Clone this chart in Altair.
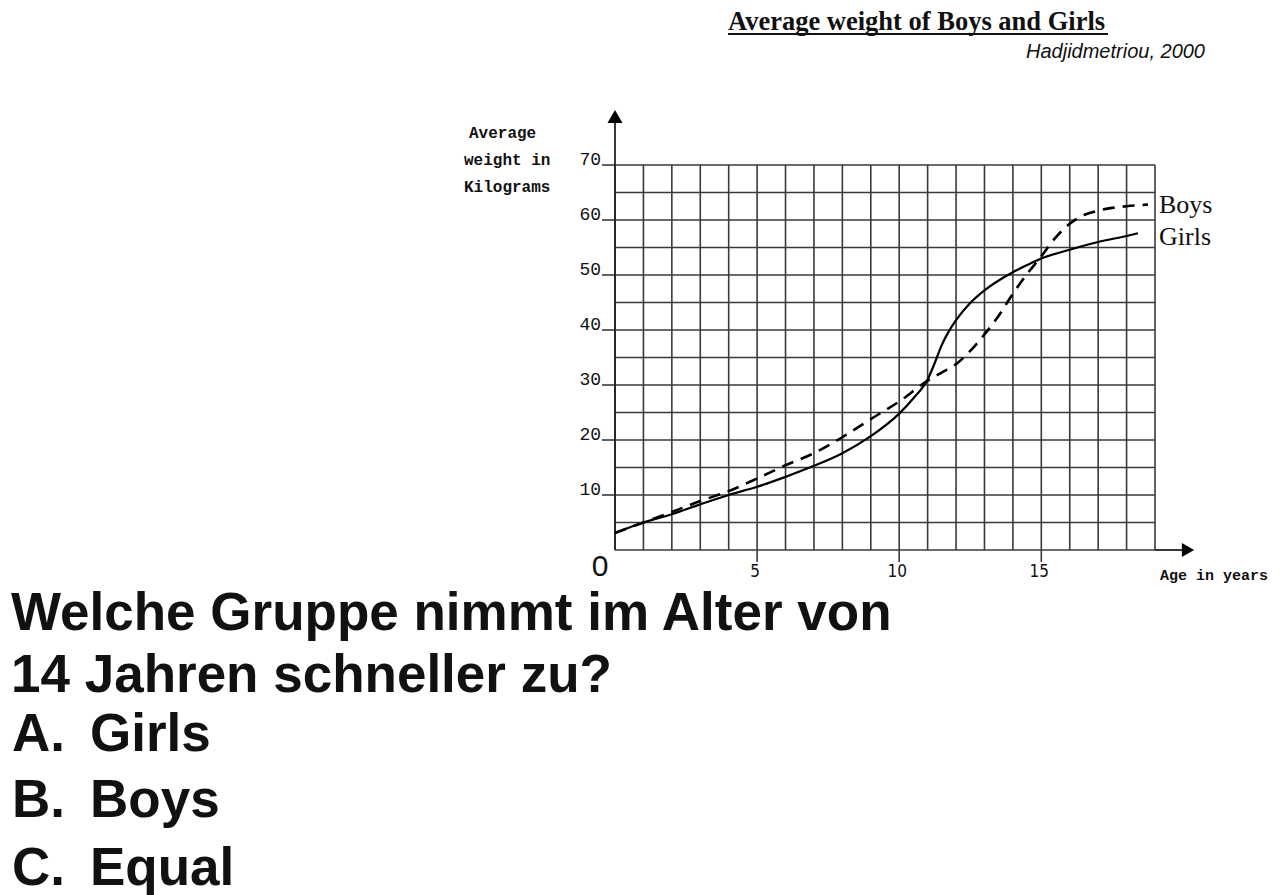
import altair as alt
import pandas as pd

# ---------------- data ----------------
boys_age = [0, 1, 2, 3, 4, 5, 6, 7, 8, 9, 10, 11, 11.5, 12, 12.5, 13, 13.5, 14, 14.5, 15, 15.5, 16, 16.5, 17, 17.5, 18, 18.75]
boys_kg = [3.1, 5.0, 6.9, 8.9, 10.7, 13.0, 15.4, 17.6, 20.5, 23.8, 27.0, 30.8, 32.3, 33.8, 36.2, 39.2, 42.6, 46.6, 50.2, 53.4, 56.8, 59.3, 60.9, 61.7, 62.2, 62.5, 62.8]
girls_age = [0, 1, 2, 3, 4, 5, 6, 7, 8, 9, 10, 10.5, 11, 11.25, 11.5, 11.75, 12, 12.5, 13, 13.5, 14, 14.5, 15, 16, 17, 18, 18.4]
girls_kg = [3.1, 5.0, 6.5, 8.3, 10.0, 11.5, 13.3, 15.3, 17.6, 20.7, 24.8, 27.6, 31.0, 34.0, 37.3, 39.8, 41.8, 44.9, 47.2, 49.0, 50.5, 51.8, 53.0, 54.6, 56.0, 57.1, 57.6]

grid_ages = list(range(0, 20))
grid_kg = list(range(0, 75, 5))
y_tick_values = [10, 20, 30, 40, 50, 60, 70]
y_tick_labels = ["10", "20", "30", "40", "50", "60", "70"]
x_tick_values = [5, 10, 15]
x_tick_labels = ["5", "10", "15"]

title_text = "Average weight of Boys and Girls"
source_text = "Hadjidmetriou, 2000"
y_title_lines = ["Average", "weight in", "Kilograms"]
x_title_text = "Age in years"
legend_labels = ["Boys", "Girls"]
question_lines = ["Welche Gruppe nimmt im Alter von", "14 Jahren schneller zu?"]
option_letters = ["A.", "B.", "C."]
option_texts = ["Girls", "Boys", "Equal"]

# ---------------- layout ----------------
W, H = 540, 385
OX, OY = 615, 165  # plot origin in page pixels

def px(X):
    return X - OX

def py(Y):
    return Y - OY

xs = alt.Scale(domain=[0, 19], nice=False, zero=False)
ys = alt.Scale(domain=[0, 70], nice=False, zero=False)
GRID = "#3a3a3a"

layers = []

# vertical grid
layers.append(
    alt.Chart(pd.DataFrame({"age": grid_ages}))
    .mark_rule(color=GRID, strokeWidth=1.6)
    .encode(x=alt.X("age:Q", scale=xs, axis=None), y=alt.value(0), y2=alt.value(H))
)
# horizontal grid
layers.append(
    alt.Chart(pd.DataFrame({"kg": grid_kg}))
    .mark_rule(color=GRID, strokeWidth=1.6)
    .encode(y=alt.Y("kg:Q", scale=ys, axis=None), x=alt.value(0), x2=alt.value(W))
)
# y major tick extensions
layers.append(
    alt.Chart(pd.DataFrame({"kg": y_tick_values}))
    .mark_rule(color=GRID, strokeWidth=1.6)
    .encode(y=alt.Y("kg:Q", scale=ys, axis=None), x=alt.value(-13), x2=alt.value(0))
)
# x major tick extensions
layers.append(
    alt.Chart(pd.DataFrame({"age": x_tick_values}))
    .mark_rule(color=GRID, strokeWidth=1.6)
    .encode(x=alt.X("age:Q", scale=xs, axis=None), y=alt.value(H), y2=alt.value(H + 12))
)
# y axis line + arrow
layers.append(
    alt.Chart(pd.DataFrame({"a": [0]}))
    .mark_rule(color="#222", strokeWidth=1.8)
    .encode(x=alt.value(0), y=alt.value(H), y2=alt.value(py(122)))
)
layers.append(
    alt.Chart(pd.DataFrame({"a": [0]}))
    .mark_point(shape="triangle-up", filled=True, color="black", size=225, opacity=1)
    .encode(x=alt.value(0), y=alt.value(py(116.5)))
)
# x axis extension + arrow
layers.append(
    alt.Chart(pd.DataFrame({"a": [0]}))
    .mark_rule(color="#222", strokeWidth=1.8)
    .encode(x=alt.value(W), x2=alt.value(px(1182)), y=alt.value(H))
)
layers.append(
    alt.Chart(pd.DataFrame({"a": [0]}))
    .mark_point(shape="triangle-right", filled=True, color="black", size=200, opacity=1)
    .encode(x=alt.value(px(1188)), y=alt.value(H))
)

# curves
layers.append(
    alt.Chart(pd.DataFrame({"age": girls_age, "kg": girls_kg}))
    .mark_line(color="black", strokeWidth=2.2, interpolate="monotone")
    .encode(x=alt.X("age:Q", scale=xs, axis=None), y=alt.Y("kg:Q", scale=ys, axis=None))
)
layers.append(
    alt.Chart(pd.DataFrame({"age": boys_age, "kg": boys_kg}))
    .mark_line(color="black", strokeWidth=2.6, strokeDash=[12, 8], interpolate="monotone")
    .encode(x=alt.X("age:Q", scale=xs, axis=None), y=alt.Y("kg:Q", scale=ys, axis=None))
)

# tick labels
layers.append(
    alt.Chart(pd.DataFrame({"kg": y_tick_values, "label": y_tick_labels}))
    .mark_text(align="right", baseline="alphabetic", font="Liberation Mono", fontSize=18, color="#111")
    .encode(y=alt.Y("kg:Q", scale=ys, axis=None), x=alt.value(-14), text="label:N")
)
layers.append(
    alt.Chart(pd.DataFrame({"age": x_tick_values, "label": x_tick_labels}))
    .mark_text(align="center", baseline="alphabetic", font="Liberation Sans Narrow, DejaVu Sans Condensed, Liberation Sans",
               fontSize=17, color="#111", dx=-2)
    .encode(x=alt.X("age:Q", scale=xs, axis=None), y=alt.value(py(577)), text="label:N")
)
layers.append(
    alt.Chart(pd.DataFrame({"label": ["0"]}))
    .mark_text(align="center", baseline="alphabetic", font="Liberation Sans", fontSize=30, color="#111")
    .encode(x=alt.value(px(600)), y=alt.value(py(576)), text="label:N")
)

# title and source
layers.append(
    alt.Chart(pd.DataFrame({"t": [title_text]}))
    .mark_text(align="left", baseline="alphabetic", font="Liberation Serif", fontWeight="bold", fontSize=26.5, color="#111")
    .encode(x=alt.value(px(728)), y=alt.value(py(30)), text="t:N")
)
layers.append(
    alt.Chart(pd.DataFrame({"a": [0]}))
    .mark_rule(color="#111", strokeWidth=2)
    .encode(x=alt.value(px(728)), x2=alt.value(px(1108)), y=alt.value(py(34)))
)
layers.append(
    alt.Chart(pd.DataFrame({"t": [source_text]}))
    .mark_text(align="right", baseline="alphabetic", font="Liberation Sans", fontStyle="italic", fontSize=20, color="#111")
    .encode(x=alt.value(px(1205)), y=alt.value(py(58)), text="t:N")
)

# y title (three lines)
layers.append(
    alt.Chart(pd.DataFrame({"t": y_title_lines, "yy": [py(138), py(165), py(192)], "xx": [px(469), px(464), px(464)]}))
    .mark_text(align="left", baseline="alphabetic", font="Liberation Mono", fontWeight="bold", fontSize=16, color="#111")
    .encode(x=alt.X("xx:Q", scale=None), y=alt.Y("yy:Q", scale=None), text="t:N")
)
# x title
layers.append(
    alt.Chart(pd.DataFrame({"t": [x_title_text]}))
    .mark_text(align="left", baseline="alphabetic", font="Liberation Mono", fontWeight="bold", fontSize=15, color="#111")
    .encode(x=alt.value(px(1160)), y=alt.value(py(580)), text="t:N")
)
# legend labels
layers.append(
    alt.Chart(pd.DataFrame({"t": legend_labels, "yy": [py(213), py(245)]}))
    .mark_text(align="left", baseline="alphabetic", font="Liberation Serif", fontSize=26, color="#111")
    .encode(x=alt.value(px(1159)), y=alt.Y("yy:Q", scale=None), text="t:N")
)

# question
layers.append(
    alt.Chart(pd.DataFrame({"t": question_lines, "yy": [py(630), py(692)]}))
    .mark_text(align="left", baseline="alphabetic", font="Liberation Sans", fontWeight="bold", fontSize=53, color="#111")
    .encode(x=alt.value(px(11)), y=alt.Y("yy:Q", scale=None), text="t:N")
)
opt_y = [py(751), py(817), py(885)]
layers.append(
    alt.Chart(pd.DataFrame({"t": option_letters, "yy": opt_y}))
    .mark_text(align="left", baseline="alphabetic", font="Liberation Sans", fontWeight="bold", fontSize=53, color="#111")
    .encode(x=alt.value(px(12)), y=alt.Y("yy:Q", scale=None), text="t:N")
)
layers.append(
    alt.Chart(pd.DataFrame({"t": option_texts, "yy": opt_y}))
    .mark_text(align="left", baseline="alphabetic", font="Liberation Sans", fontWeight="bold", fontSize=53, color="#111")
    .encode(x=alt.value(px(90)), y=alt.Y("yy:Q", scale=None), text="t:N")
)

chart = (
    alt.layer(*layers)
    .properties(
        width=W,
        height=H,
        autosize=alt.AutoSizeParams(type="none"),
        padding={"left": OX, "top": OY, "right": 1284 - OX - W, "bottom": 895 - OY - H},
        background="white",
    )
    .configure_view(stroke=None)
)

chart.save("out.html", embed_options={"renderer": "svg", "actions": False})
